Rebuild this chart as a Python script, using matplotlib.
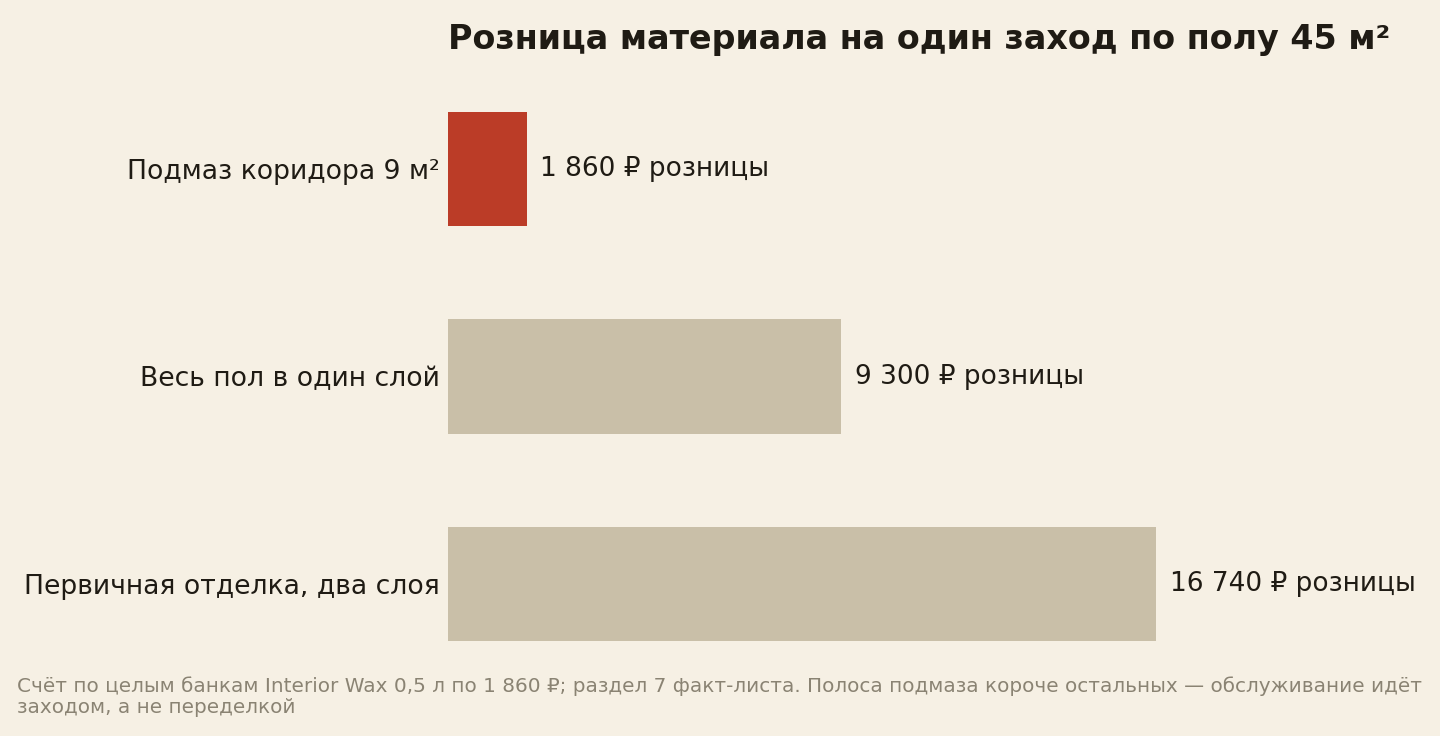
import matplotlib.pyplot as plt

categories = ['Подмаз коридора 9 м²', 'Весь пол в один слой', 'Первичная отделка, два слоя']
values = [1860, 9300, 16740]
value_labels = ['1 860 ₽ розницы', '9 300 ₽ розницы', '16 740 ₽ розницы']
highlight = [True, False, False]

title = 'Розница материала на один заход по полу 45 м²'
footnote = ('Счёт по целым банкам Interior Wax 0,5 л по 1 860 ₽; раздел 7 факт-листа. '
            'Полоса подмаза короче остальных — обслуживание идёт\nзаходом, а не переделкой')

bg = '#f6f0e4'
red = '#bb3c27'
tan = '#c9bfa8'
ink = '#1f1b14'
grey = '#8a8373'

plt.rcParams['font.family'] = ['DejaVu Sans']

fig = plt.figure(figsize=(9.6, 7.36 / 1.5), dpi=150, facecolor=bg)
ax = fig.add_axes([448 / 1440, 48 / 736, 973 / 1440, 623 / 736])
ax.set_facecolor(bg)

y = list(range(len(categories)))
colors = [red if h else tan for h in highlight]
ax.barh(y, values, height=0.55, color=colors, zorder=2)

ax.set_xlim(0, 23000)
ax.set_ylim(2.5, -0.5)
ax.set_yticks(y)
ax.set_yticklabels(categories, fontsize=12.8, color=ink)
ax.tick_params(axis='y', length=0, pad=4)
ax.set_xticks([])
for s in ax.spines.values():
    s.set_visible(False)

for yi, v, lab in zip(y, values, value_labels):
    ax.annotate(lab, (v, yi), xytext=(6.5, 0), textcoords='offset points',
                va='center', ha='left', fontsize=12.7, color=ink)

fig.text(448 / 1440, 1 - 40 / 736, title, fontsize=16, fontweight='bold',
         color=ink, ha='left', va='center')
fig.text(17 / 1440, 1 - 676 / 736, footnote, fontsize=9.6, color=grey,
         ha='left', va='top', linespacing=1.15)

fig.savefig('out.png', dpi=150, facecolor=bg)
